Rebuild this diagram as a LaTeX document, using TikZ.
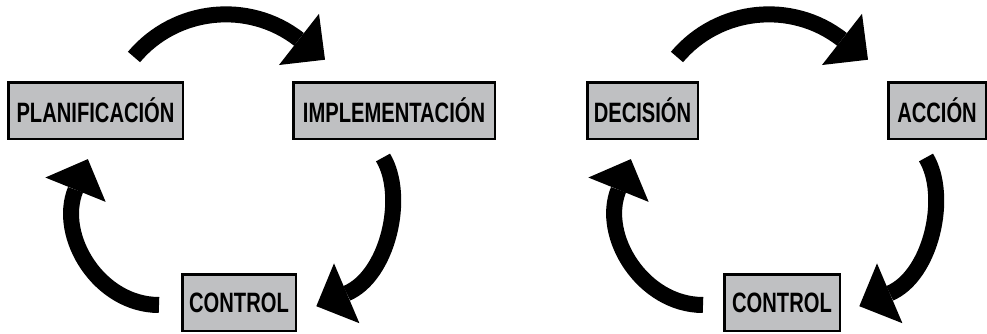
\documentclass[tikz,border=0pt]{standalone}
\usepackage{fontspec}
\setmainfont{Liberation Sans}[FakeStretch=0.72]
\usetikzlibrary{arrows.meta}
\definecolor{boxgray}{RGB}{191,192,194}
\tikzset{box node/.style={rectangle,draw,fill=boxgray,line width=2.5pt,inner sep=0pt,
		minimum height=56.5pt,font=\bfseries\fontsize{28}{28}\selectfont},
	flow arrow/.style={line width=16pt,-{Triangle[length=33pt,width=65pt,line width=0pt]},shorten >=-33pt}
}

\begin{document}
\begin{tikzpicture}[x=1pt,y=1pt]
		\useasboundingbox (0,0) rectangle (987,333);
		
		\node[box node,minimum width=174.5pt] (plan) at (95.5,222.5) {PLANIFICACIÓN};
		\node[box node,minimum width=201.5pt] (impl) at (394,222.5) {IMPLEMENTACIÓN};
		\node[box node,minimum width=113.5pt] (ctrlA) at (239,30.5) {CONTROL};
		
		\node[box node,minimum width=110.5pt] (dec) at (642.5,222.5) {DECISIÓN};
		\node[box node,minimum width=97.5pt] (acc) at (937,222.5) {ACCIÓN};
		\node[box node,minimum width=115.5pt] (ctrlB) at (782,30.5) {CONTROL};
		
		\coordinate (plan-out) at (134,276);
		\coordinate (impl-in) at (299,293.6);
		\coordinate (impl-out) at (383,175.5);
		\coordinate (ctrlA-in) at (346.7,39.7);
		\coordinate (ctrlA-out) at (159,28);
		\coordinate (plan-in) at (75.5,143.3);
		
		\coordinate (dec-out) at (677,276);
		\coordinate (acc-in) at (842,293.6);
		\coordinate (acc-out) at (926,175.5);
		\coordinate (ctrlB-in) at (889.7,39.7);
		\coordinate (ctrlB-out) at (703,28);
		\coordinate (dec-in) at (618.5,143.3);
		
		\draw[flow arrow] (plan-out) .. controls +(50:64) and +(142:64) .. (impl-in);
		\draw[flow arrow] (impl-out) .. controls +(-59:45) and +(23:45) .. (ctrlA-in);
		\draw[flow arrow] (ctrlA-out) .. controls +(180:60) and +(248:50) .. (plan-in);
		
		\draw[flow arrow] (dec-out) .. controls +(50:64) and +(142:64) .. (acc-in);
		\draw[flow arrow] (acc-out) .. controls +(-59:45) and +(23:45) .. (ctrlB-in);
		\draw[flow arrow] (ctrlB-out) .. controls +(180:60) and +(248:50) .. (dec-in);
\end{tikzpicture}
\end{document}
